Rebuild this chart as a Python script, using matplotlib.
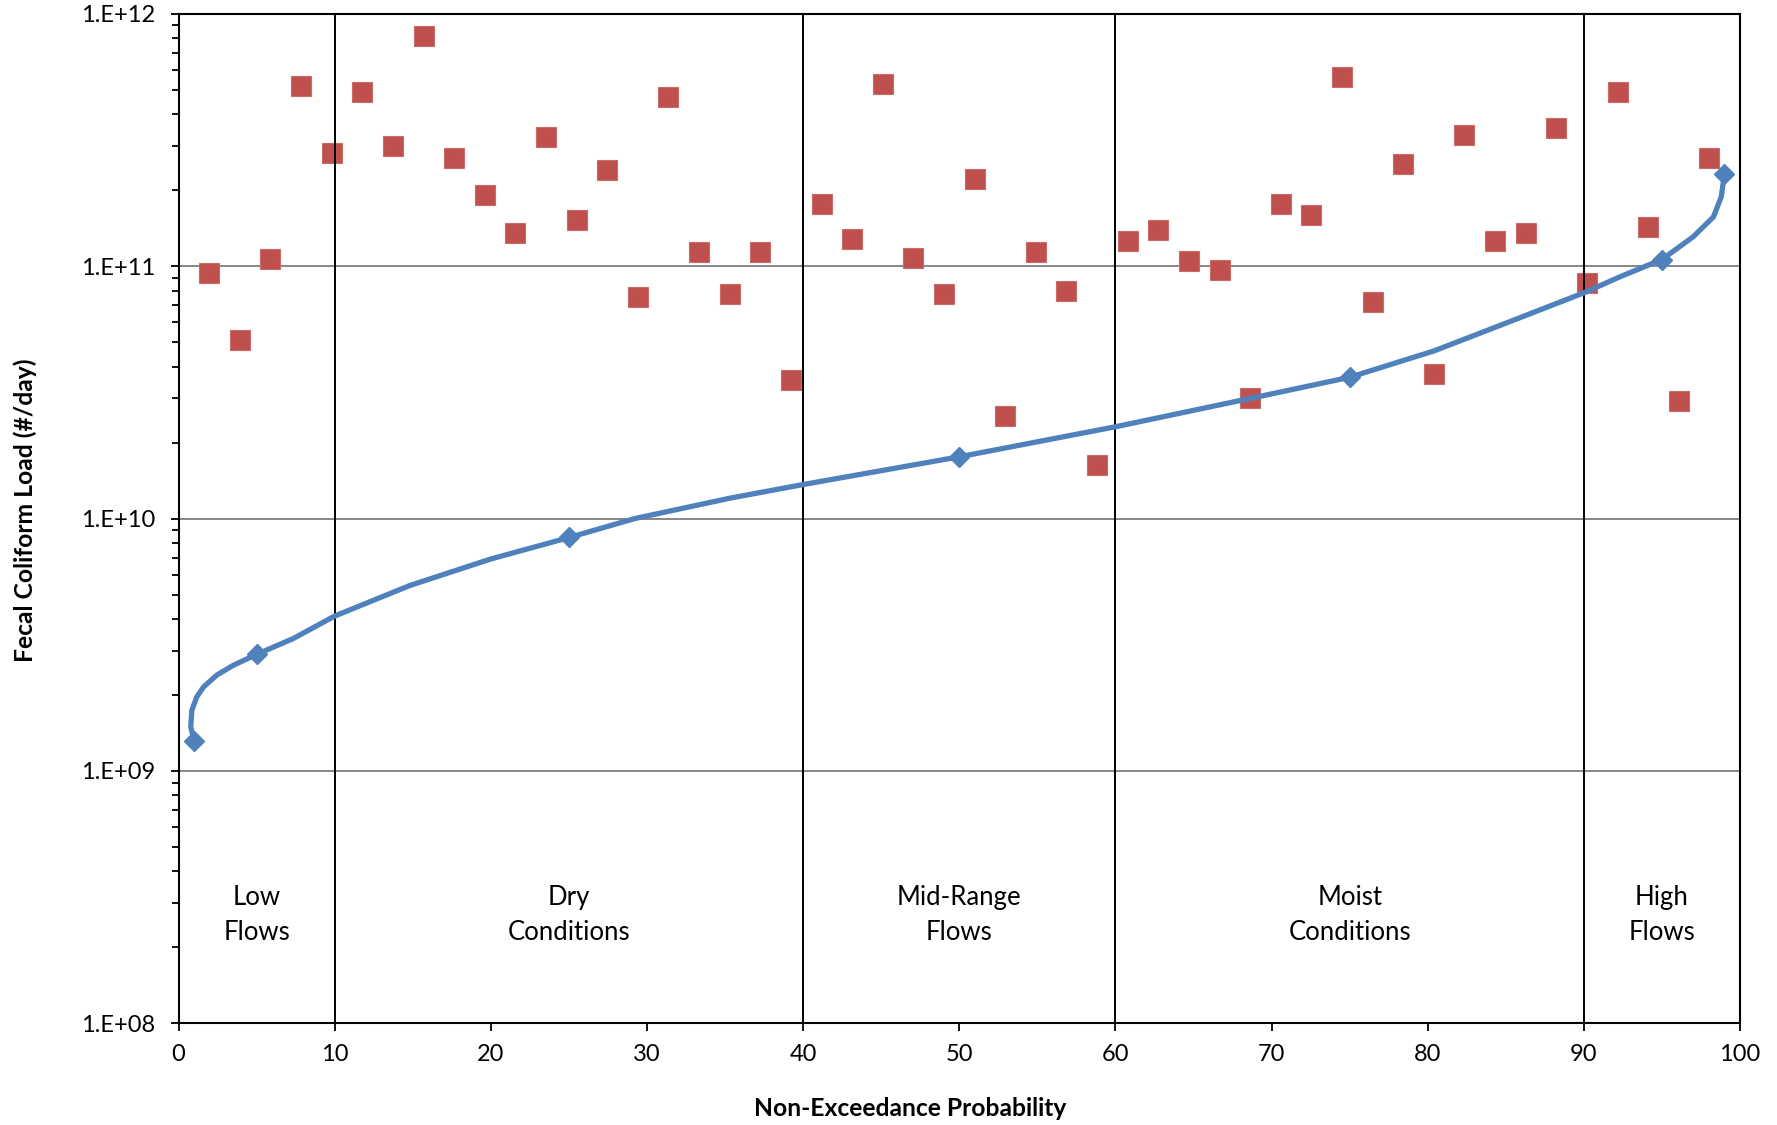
import math
import matplotlib
matplotlib.use('Agg')
import matplotlib.pyplot as plt
from matplotlib.ticker import FixedLocator, LogLocator, FuncFormatter, NullFormatter

# ---------------- data ----------------
sample_prob = [1.96, 3.92, 5.88, 7.84, 9.80, 11.76, 13.73, 15.69, 17.65, 19.61,
               21.57, 23.53, 25.49, 27.45, 29.41, 31.37, 33.33, 35.29, 37.25, 39.22,
               41.18, 43.14, 45.10, 47.06, 49.02, 50.98, 52.94, 54.90, 56.86, 58.82,
               60.78, 62.75, 64.71, 66.67, 68.63, 70.59, 72.55, 74.51, 76.47, 78.43,
               80.39, 82.35, 84.31, 86.27, 88.24, 90.20, 92.16, 94.12, 96.08, 98.04]
sample_load = [9.4e10, 5.1e10, 1.07e11, 5.16e11, 2.8e11, 4.9e11, 3.0e11, 8.2e11, 2.69e11, 1.91e11,
               1.36e11, 3.24e11, 1.52e11, 2.4e11, 7.55e10, 4.7e11, 1.14e11, 7.8e10, 1.14e11, 3.55e10,
               1.76e11, 1.28e11, 5.27e11, 1.08e11, 7.8e10, 2.21e11, 2.55e10, 1.14e11, 7.95e10, 1.63e10,
               1.26e11, 1.39e11, 1.05e11, 9.7e10, 3.0e10, 1.76e11, 1.59e11, 5.6e11, 7.24e10, 2.55e11,
               3.73e10, 3.3e11, 1.26e11, 1.36e11, 3.52e11, 8.6e10, 4.9e11, 1.43e11, 2.92e10, 2.69e11]

curve_prob = [1.0, 0.78, 0.85, 1.17, 1.6, 2.45, 3.51, 5.0, 7.35, 10.0,
              14.8, 20.0, 25.0, 29.2, 35.3, 40.0, 50.0, 60.0, 68.6, 75.0,
              80.4, 84.6, 90.0, 92.3, 95.0, 97.0, 98.3, 98.8, 99.0]
curve_load = [1.315e9, 1.496e9, 1.742e9, 1.968e9, 2.153e9, 2.399e9, 2.624e9, 2.897e9, 3.350e9, 4.111e9,
              5.43e9, 6.92e9, 8.414e9, 1.0e10, 1.205e10, 1.365e10, 1.758e10, 2.312e10, 2.992e10, 3.631e10,
              4.62e10, 5.82e10, 7.85e10, 9.08e10, 1.064e11, 1.309e11, 1.570e11, 1.888e11, 2.323e11]

marker_prob = [1, 5, 25, 50, 75, 95, 99]
marker_load = [1.32e9, 2.91e9, 8.42e9, 1.76e10, 3.63e10, 1.06e11, 2.32e11]

zone_bounds = [0, 10, 40, 60, 90, 100]
zone_labels = ['Low\nFlows', 'Dry\nConditions', 'Mid-Range\nFlows', 'Moist\nConditions', 'High\nFlows']

x_ticks = [0, 10, 20, 30, 40, 50, 60, 70, 80, 90, 100]
y_ticks = [1e8, 1e9, 1e10, 1e11, 1e12]

x_title = 'Non-Exceedance Probability'
y_title = 'Fecal Coliform Load (#/day)'

# ---------------- style ----------------
plt.rcParams['font.family'] = ['Lato', 'DejaVu Sans']
BLUE = '#4F81BD'
RED = '#C0504D'

fig = plt.figure(figsize=(17.77, 11.25), dpi=100)
ax = fig.add_axes([0.1005, 0.0904, 0.8787, 0.8972])

ax.set_yscale('log')
ax.set_xlim(0, 100)
ax.set_ylim(1e8, 1e12)

# horizontal gridlines
for yv in y_ticks[1:-1]:
    ax.axhline(yv, color='#878787', lw=1.4, zorder=1)

# zone boundaries
for xb in zone_bounds[1:-1]:
    ax.axvline(xb, color='black', lw=1.4, zorder=4)

# samples
ax.plot(sample_prob, sample_load, linestyle='none', marker='s', markersize=14,
        markerfacecolor=RED, markeredgecolor='#CB6B68', markeredgewidth=0.8, zorder=3)

# duration curve
ax.plot(curve_prob, curve_load, color=BLUE, lw=3.8, solid_joinstyle='round',
        solid_capstyle='round', zorder=5)
ax.plot(marker_prob, marker_load, linestyle='none', marker='D', markersize=10,
        color=BLUE, zorder=6)

# zone labels
for i, lab in enumerate(zone_labels):
    xc = (zone_bounds[i] + zone_bounds[i + 1]) / 2
    ax.text(xc, 10 ** 8.43, lab, ha='center', va='center', fontsize=18.5,
            linespacing=1.5, color='black', zorder=7)

# ticks
ax.xaxis.set_major_locator(FixedLocator(x_ticks))
ax.set_xticklabels([str(v) for v in x_ticks])
ax.yaxis.set_major_locator(FixedLocator(y_ticks))
ax.yaxis.set_major_formatter(FuncFormatter(lambda v, p: '1.E+%02d' % round(math.log10(v))))
ax.yaxis.set_minor_locator(LogLocator(base=10, subs=[2, 3, 4, 5, 6, 7, 8, 9]))
ax.yaxis.set_minor_formatter(NullFormatter())

ax.tick_params(axis='both', which='major', direction='out', length=6, width=1.3,
               labelsize=17, colors='black')
ax.tick_params(axis='y', which='major', pad=11)
ax.tick_params(axis='x', which='major', pad=9)
ax.tick_params(axis='y', which='minor', direction='out', length=5, width=1.3)
ax.tick_params(top=False, right=False, which='both')

for s in ax.spines.values():
    s.set_color('black')
    s.set_linewidth(1.5)

fig.text(910 / 1777, 1 - 1108 / 1125, x_title, ha='center', va='center',
         fontsize=17.7, fontweight='bold')
fig.text(25 / 1777, 1 - 510 / 1125, y_title, ha='center', va='center',
         rotation=90, fontsize=17.7, fontweight='bold')

fig.savefig('out.png', dpi=100)
